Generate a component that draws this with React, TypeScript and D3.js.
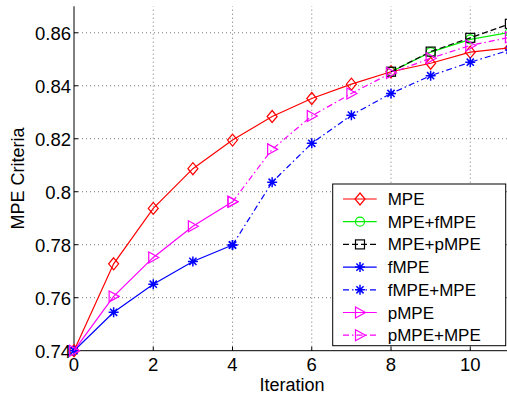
import React from "react";
import * as d3 from "d3";

// values
const xTicks = [0, 2, 4, 6, 8, 10];
const yTicks = [0.74, 0.76, 0.78, 0.8, 0.82, 0.84, 0.86];

const mpeX = [0, 1, 2, 3, 4, 5, 6, 7, 8, 9, 10, 11];
const mpeY = [0.74, 0.7728, 0.7937, 0.8087, 0.8195, 0.8284, 0.8352, 0.8406, 0.8453, 0.8485, 0.8527, 0.8543];

const tailX = [8, 9, 10, 11];
const mpeFmpeY = [0.8453, 0.8527, 0.8575, 0.8602];
const mpePmpeY = [0.8453, 0.8529, 0.8581, 0.8634];

const headX = [0, 1, 2, 3, 4];
const fmpeY = [0.74, 0.7545, 0.7651, 0.7737, 0.7799];
const pmpeY = [0.74, 0.7605, 0.7752, 0.787, 0.7962];

const secondX = [4, 5, 6, 7, 8, 9, 10, 11];
const fmpeMpeY = [0.7799, 0.8036, 0.8183, 0.8289, 0.8371, 0.8438, 0.8489, 0.8535];
const pmpeMpeY = [0.7962, 0.816, 0.8286, 0.8371, 0.8448, 0.8504, 0.8552, 0.8583];

type Marker = "diamond" | "circle" | "square" | "star" | "tri";

const series = [
  { name: "MPE", xs: mpeX, ys: mpeY, color: "#ff0000", dash: "", marker: "diamond" as Marker },
  { name: "MPE+fMPE", xs: tailX, ys: mpeFmpeY, color: "#00ee00", dash: "", marker: "circle" as Marker },
  { name: "MPE+pMPE", xs: tailX, ys: mpePmpeY, color: "#000000", dash: "6,3", marker: "square" as Marker },
  { name: "fMPE", xs: headX, ys: fmpeY, color: "#0000ff", dash: "", marker: "star" as Marker },
  { name: "fMPE+MPE", xs: secondX, ys: fmpeMpeY, color: "#0000ff", dash: "6,3,1.5,3", marker: "star" as Marker },
  { name: "pMPE", xs: headX, ys: pmpeY, color: "#ff00ff", dash: "", marker: "tri" as Marker },
  { name: "pMPE+MPE", xs: secondX, ys: pmpeMpeY, color: "#ff00ff", dash: "6,3,1.5,3", marker: "tri" as Marker },
];

const width = 507, height = 394;
const font = "'Liberation Sans', Arial, Helvetica, sans-serif";

const x = d3.scaleLinear().domain([0, 11]).range([74, 509.9]);
const y = d3.scaleLinear().domain([0.74, 0.87]).range([350.7, 6.3]);

function MarkerShape({ kind, cx, cy, color }: { kind: Marker; cx: number; cy: number; color: string }) {
  const common = { fill: "none", stroke: color, strokeWidth: 1.2 };
  if (kind === "diamond")
    return <path d={`M${cx},${cy - 6}L${cx + 5},${cy}L${cx},${cy + 6}L${cx - 5},${cy}Z`} {...common} />;
  if (kind === "circle") return <circle cx={cx} cy={cy} r={4.5} {...common} />;
  if (kind === "square") return <rect x={cx - 4.5} y={cy - 4.5} width={9} height={9} {...common} />;
  if (kind === "tri")
    return <path d={`M${cx + 5.5},${cy}L${cx - 4.5},${cy - 5.5}L${cx - 4.5},${cy + 5.5}Z`} {...common} />;
  const r = 5, d = 3.6;
  return (
    <path
      d={`M${cx - r},${cy}L${cx + r},${cy}M${cx},${cy - r}L${cx},${cy + r}M${cx - d},${cy - d}L${cx + d},${cy + d}M${cx - d},${cy + d}L${cx + d},${cy - d}`}
      {...common}
      strokeWidth={1.5}
    />
  );
}

export default function App() {
  const line = d3.line<[number, number]>().x((d) => x(d[0])).y((d) => y(d[1]));
  const [x0, x1] = x.range();
  const [yb, yt] = y.range();

  const lgX = 332.7, lgY = 184, lgW = 173, lgH = 161.7, rowH = 22.7;

  return (
    <svg width={width} height={height} style={{ position: "absolute", left: 0, top: 0, background: "#fff" }} fontFamily={font}>
      <rect width={width} height={height} fill="#fff" />
      {/* grid */}
      {xTicks.filter((t) => t > 0).map((t) => (
        <line key={"gx" + t} x1={x(t)} x2={x(t)} y1={yb} y2={yt} stroke="#777" strokeWidth={1} strokeDasharray="1,3" />
      ))}
      {yTicks.filter((t) => t > 0.74).map((t) => (
        <line key={"gy" + t} x1={x0} x2={x1} y1={y(t)} y2={y(t)} stroke="#777" strokeWidth={1} strokeDasharray="1,3" />
      ))}
      {/* axes */}
      <line x1={x0} x2={x0} y1={yb} y2={yt} stroke="#000" strokeWidth={1} />
      <line x1={x0} x2={x1} y1={yb} y2={yb} stroke="#000" strokeWidth={1} />
      {xTicks.map((t) => (
        <g key={"xt" + t}>
          <line x1={x(t)} x2={x(t)} y1={yb} y2={yb - 4} stroke="#000" />
          <text x={x(t)} y={371} textAnchor="middle" fontSize={18.5}>{t}</text>
        </g>
      ))}
      {yTicks.map((t) => (
        <g key={"yt" + t}>
          <line x1={x0} x2={x0 + 4} y1={y(t)} y2={y(t)} stroke="#000" />
          <text x={71} y={y(t) + 6.8} textAnchor="end" fontSize={18.5}>{String(t)}</text>
        </g>
      ))}
      <text x={292} y={390.5} textAnchor="middle" fontSize={18}>Iteration</text>
      <text transform={`translate(24,${(yb + yt) / 2}) rotate(-90)`} textAnchor="middle" fontSize={18}>MPE Criteria</text>

      {/* series */}
      {series.map((s) => {
        const pts = s.xs.map((v, i) => [v, s.ys[i]] as [number, number]);
        return (
          <g key={s.name}>
            <path d={line(pts) || ""} fill="none" stroke={s.color} strokeWidth={1.2} strokeDasharray={s.dash || undefined} />
            {pts.map((p, i) => (
              <MarkerShape key={i} kind={s.marker} cx={x(p[0])} cy={y(p[1])} color={s.color} />
            ))}
          </g>
        );
      })}

      {/* legend */}
      <rect x={lgX} y={lgY} width={lgW} height={lgH} fill="#fff" stroke="#000" strokeWidth={1} />
      {series.map((s, i) => {
        const cy = lgY + 15 + i * rowH;
        return (
          <g key={"lg" + s.name}>
            <line x1={343} x2={376.7} y1={cy} y2={cy} stroke={s.color} strokeWidth={1.2} strokeDasharray={s.dash || undefined} />
            <MarkerShape kind={s.marker} cx={360} cy={cy} color={s.color} />
            <text x={387.7} y={cy + 6} fontSize={17}>{s.name}</text>
          </g>
        );
      })}
    </svg>
  );
}
